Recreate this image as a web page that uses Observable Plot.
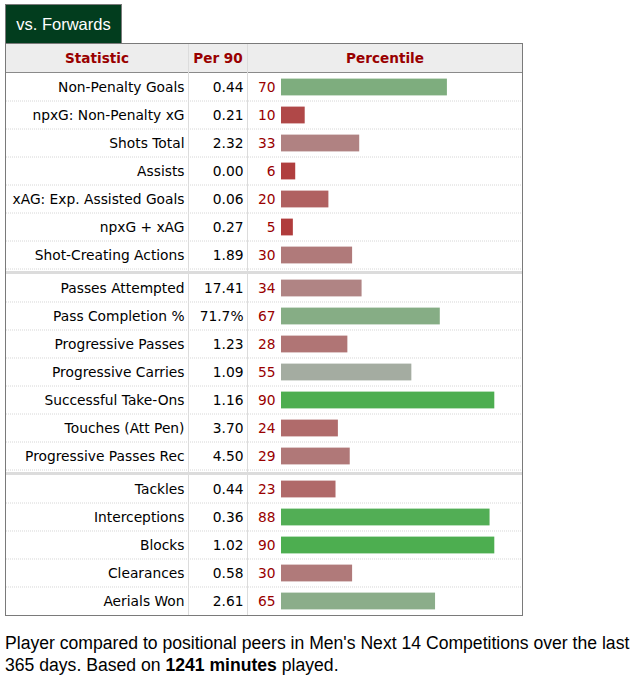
<!DOCTYPE html>
<html>
<head>
<meta charset="utf-8">
<script src="https://cdn.jsdelivr.net/npm/d3@7"></script>
<script src="https://cdn.jsdelivr.net/npm/@observablehq/plot@0.6"></script>
<style>
  html, body { margin: 0; padding: 0; background: #fff; }
  #tab {
    position: absolute; left: 5px; top: 4px; width: 117px; height: 39px;
    box-sizing: border-box; background: #023d1e; border: 1px solid #7a7a7a; border-bottom: none;
    color: #fff; font: 16.5px "Liberation Sans", Arial, sans-serif; line-height: 38px; text-align: center;
  }
  #table {
    position: absolute; left: 5px; top: 43px; width: 518px;
    box-sizing: border-box; border: 1px solid #7a7a7a; background: #fff;
  }
  #header {
    position: relative; height: 28px; background: #ededed; border-bottom: 1px solid #8a8a8a;
    font: bold 13.6px "DejaVu Sans", Verdana, sans-serif; color: #990000;
  }
  #header span { position: absolute; top: 0; line-height: 28px; text-align: center; }
  .sep { height: 5px; box-sizing: border-box; border-top: 2px solid #fff; background: #dcdcdc; }
  .col { position: absolute; top: 0; bottom: 0; width: 1px; background: #dcdcdc; pointer-events: none; }
  .group svg { display: block; }
  #caption {
    position: absolute; left: 5px; top: 632px; width: 634px; white-space: nowrap;
    font: 17.6px "Liberation Sans", Arial, sans-serif; line-height: 22px; color: #000;
  }
</style>
</head>
<body>
<div id="tab">vs. Forwards</div>
<div id="table">
  <div id="header">
    <span style="left:0;width:182px">Statistic</span>
    <span style="left:183px;width:58px">Per 90</span>
    <span style="left:242px;width:274px">Percentile</span>
  </div>
  <div id="body"></div>
  <div class="col" style="left:182px"></div>
  <div class="col" style="left:241px"></div>
</div>
<div id="caption"><span>Player compared to positional peers in Men's Next 14 Competitions over the last</span><br><span>365 days. Based on </span><b>1241 minutes</b><span> played.</span></div>
<script>
const statistics = [
  "Non-Penalty Goals", "npxG: Non-Penalty xG", "Shots Total", "Assists",
  "xAG: Exp. Assisted Goals", "npxG + xAG", "Shot-Creating Actions",
  "Passes Attempted", "Pass Completion %", "Progressive Passes", "Progressive Carries",
  "Successful Take-Ons", "Touches (Att Pen)", "Progressive Passes Rec",
  "Tackles", "Interceptions", "Blocks", "Clearances", "Aerials Won"
];
const per90 = [
  "0.44", "0.21", "2.32", "0.00", "0.06", "0.27", "1.89",
  "17.41", "71.7%", "1.23", "1.09", "1.16", "3.70", "4.50",
  "0.44", "0.36", "1.02", "0.58", "2.61"
];
const percentiles = [70, 10, 33, 6, 20, 5, 30, 34, 67, 28, 55, 90, 24, 29, 23, 88, 90, 30, 65];
const groupSizes = [7, 7, 5];

const rows = statistics.map((s, i) => ({stat: s, per90: per90[i], pct: percentiles[i]}));
const body = document.getElementById("body");
const ROW = 28;
const FS = 13.8;
const font = "'DejaVu Sans', Verdana, sans-serif";
let start = 0;
groupSizes.forEach((n, gi) => {
  const data = rows.slice(start, start + n);
  start += n;
  const isLast = gi === groupSizes.length - 1;
  const lines = isLast ? data.slice(0, -1) : data;
  const chart = Plot.plot({
    width: 516,
    height: n * ROW,
    marginTop: 0, marginRight: 0, marginBottom: 0, marginLeft: 0,
    style: {background: "transparent", fontFamily: font, overflow: "visible"},
    x: {domain: [0, 100], range: [275, 512], axis: null},
    y: {domain: data.map(d => d.stat), range: [0, n * ROW], paddingInner: 0.4, paddingOuter: 0.2, round: false, axis: null},
    color: {type: "linear", domain: [0, 50, 100],
            range: ["rgb(176,47,47)", "rgb(176,172,172)", "rgb(52,175,57)"], interpolate: "rgb", legend: false},
    marks: [
      Plot.ruleY(lines, {y: "stat", dy: 13.5, stroke: "#d6d6d6", strokeDasharray: "1,1", strokeWidth: 1}),
      Plot.barX(data, {x: "pct", y: "stat", fill: "pct"}),
      Plot.text(data, {y: "stat", text: "stat", frameAnchor: "left", dx: 178, textAnchor: "end", fill: "#000", fontSize: FS}),
      Plot.text(data, {y: "stat", text: "per90", frameAnchor: "left", dx: 237, textAnchor: "end", fill: "#000", fontSize: FS}),
      Plot.text(data, {y: "stat", text: d => String(d.pct), frameAnchor: "left", dx: 269, textAnchor: "end", fill: "#990000", fontSize: FS})
    ]
  });
  const g = document.createElement("div");
  g.className = "group";
  g.appendChild(chart);
  body.appendChild(g);
  if (!isLast) {
    const s = document.createElement("div");
    s.className = "sep";
    body.appendChild(s);
  }
});
</script>
</body>
</html>
